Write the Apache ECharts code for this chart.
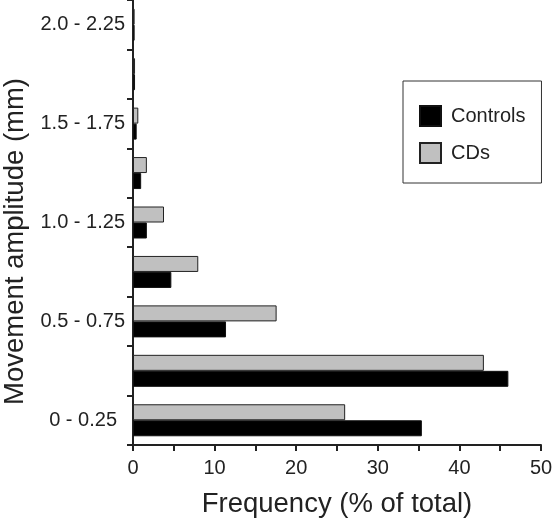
<!DOCTYPE html>
<html><head><meta charset="utf-8">
<script src="https://cdn.jsdelivr.net/npm/echarts@6/dist/echarts.min.js"></script>
<style>html,body{margin:0;padding:0;background:#fff}#c{width:552px;height:525px}</style>
</head><body><div id="c"></div>
<script>
const categories = ["0 - 0.25", "0.25 - 0.5", "0.5 - 0.75", "0.75 - 1.0", "1.0 - 1.25", "1.25 - 1.5", "1.5 - 1.75", "1.75 - 2.0", "2.0 - 2.25"];
const controls = [35.4, 46.0, 11.4, 4.7, 1.7, 1.0, 0.45, 0.25, 0.2];
const cds = [26.0, 43.0, 17.6, 8.0, 3.8, 1.7, 0.65, 0.25, 0.2];
const xTicks = [0, 10, 20, 30, 40, 50];

const chart = echarts.init(document.getElementById('c'), null, {renderer: 'canvas'});
const font = 'Liberation Sans, Arial, Helvetica, sans-serif';
chart.setOption({
  animation: false,
  textStyle: {fontFamily: font},
  grid: {left: 133, right: 11, top: 0, bottom: 80, containLabel: false, outerBoundsMode: 'none'},
  legend: {
    orient: 'vertical', left: 403, top: 81,
    data: ['Controls', 'CDs'],
    itemWidth: 21, itemHeight: 20, itemGap: 15,
    padding: [24, 16, 19, 16],
    borderColor: '#333', borderWidth: 1,
    textStyle: {fontSize: 20, color: '#222', fontFamily: font, padding: [0, 0, 0, 5]},
    icon: 'rect'
  },
  xAxis: {
    type: 'value', min: 0, max: 50, interval: 5,
    name: 'Frequency (% of total)', nameLocation: 'middle', nameGap: 45,
    nameTextStyle: {fontSize: 27.5, color: '#222', fontFamily: font},
    axisLine: {show: true, lineStyle: {color: '#222', width: 2}},
    axisTick: {show: true, length: 6, lineStyle: {color: '#222', width: 2}},
    axisLabel: {fontSize: 20, color: '#222', margin: 13, fontFamily: font,
      formatter: v => xTicks.includes(v) ? String(v) : ''},
    splitLine: {show: false}
  },
  yAxis: {
    type: 'category', data: categories,
    name: 'Movement amplitude (mm)', nameLocation: 'middle', nameGap: 101,
    nameTextStyle: {fontSize: 27.5, color: '#222', fontFamily: font, padding: [0, 38, 0, 0]},
    axisLine: {show: true, lineStyle: {color: '#222', width: 2}},
    axisTick: {show: true, length: 6, interval: 0, lineStyle: {color: '#222', width: 2}},
    axisLabel: {fontSize: 20, color: '#222', interval: 1, margin: 8, fontFamily: font,
      formatter: (v, i) => i === 0 ? '{a|' + v + '}' : v,
      rich: {a: {fontSize: 20, color: '#222', fontFamily: font, padding: [0, 8, 0, 0]}}}
  },
  series: [
    {name: 'CDs', type: 'bar', data: cds, barWidth: 16, barGap: '0%',
     itemStyle: {color: '#c0c0c0', borderColor: '#222', borderWidth: 1}},
    {name: 'Controls', type: 'bar', data: controls, barWidth: 16, barGap: '0%',
     itemStyle: {color: '#000', borderColor: '#111', borderWidth: 1}}
  ]
});
</script></body></html>
